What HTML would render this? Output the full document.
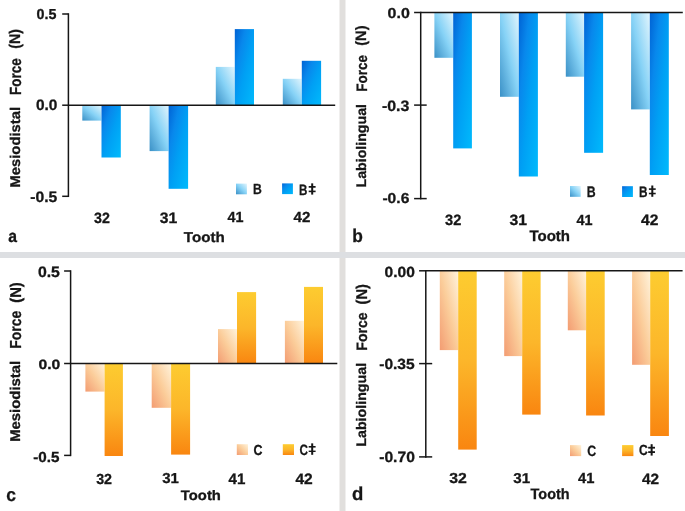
<!DOCTYPE html><html><head><meta charset="utf-8"><style>html,body{margin:0;padding:0;background:#fff;}svg{display:block;}text{font-family:"Liberation Sans", sans-serif;font-weight:bold;fill:#161616;text-rendering:geometricPrecision;stroke:#161616;stroke-width:0.3px;}.t{opacity:0.999;}</style></head><body>
<svg width="685" height="511" viewBox="0 0 685 511">
<defs>
<linearGradient id="blueL" x1="0" y1="1" x2="1" y2="0">
 <stop offset="0" stop-color="#3a90c6"/><stop offset="0.5" stop-color="#86d2f6"/><stop offset="1" stop-color="#e2f5fd"/></linearGradient>
<linearGradient id="blueD" x1="0" y1="0" x2="1" y2="1">
 <stop offset="0" stop-color="#0062d4"/><stop offset="0.28" stop-color="#0888ec"/><stop offset="0.55" stop-color="#00a0f4"/><stop offset="1" stop-color="#00bafc"/></linearGradient>
<linearGradient id="orL" x1="0" y1="1" x2="1" y2="0">
 <stop offset="0" stop-color="#f39c72"/><stop offset="0.5" stop-color="#fbcd9a"/><stop offset="1" stop-color="#fff3dc"/></linearGradient>
<linearGradient id="orD" x1="0" y1="0" x2="0" y2="1">
 <stop offset="0" stop-color="#fdcc30"/><stop offset="0.5" stop-color="#fcb62a"/><stop offset="1" stop-color="#f98610"/></linearGradient>
</defs>
<rect x="339.5" y="0" width="6" height="511" fill="#e1dfdd"/>
<rect x="0" y="252" width="685" height="6" fill="#dddfe2"/>
<rect x="82.3" y="105.2" width="19.2" height="15.4" fill="url(#blueL)"/>
<rect x="101.5" y="105.2" width="19.3" height="52.3" fill="url(#blueD)"/>
<rect x="149.6" y="105.2" width="19" height="45.9" fill="url(#blueL)"/>
<rect x="168.6" y="105.2" width="19.5" height="83.6" fill="url(#blueD)"/>
<rect x="215.8" y="66.9" width="19" height="38.3" fill="url(#blueL)"/>
<rect x="234.8" y="29.1" width="19.2" height="76.1" fill="url(#blueD)"/>
<rect x="282.8" y="78.8" width="19" height="26.4" fill="url(#blueL)"/>
<rect x="301.8" y="60.8" width="19.3" height="44.4" fill="url(#blueD)"/>
<line x1="68.4" y1="13.25" x2="68.4" y2="197.05" stroke="#161616" stroke-width="1.5"/>
<line x1="68.4" y1="105.2" x2="335.2" y2="105.2" stroke="#161616" stroke-width="1.5"/>
<line x1="62.2" y1="14" x2="68.4" y2="14" stroke="#161616" stroke-width="1.5"/>
<line x1="62.2" y1="105.2" x2="68.4" y2="105.2" stroke="#161616" stroke-width="1.5"/>
<line x1="62.2" y1="196.3" x2="68.4" y2="196.3" stroke="#161616" stroke-width="1.5"/>
<rect x="434.4" y="12.5" width="18.8" height="45.3" fill="url(#blueL)"/>
<rect x="453.2" y="12.5" width="18.7" height="135.9" fill="url(#blueD)"/>
<rect x="500" y="12.5" width="18.8" height="84.3" fill="url(#blueL)"/>
<rect x="518.8" y="12.5" width="19.1" height="164" fill="url(#blueD)"/>
<rect x="565.8" y="12.5" width="18.3" height="64.2" fill="url(#blueL)"/>
<rect x="584.1" y="12.5" width="19" height="140.3" fill="url(#blueD)"/>
<rect x="631.1" y="12.5" width="18.7" height="96.9" fill="url(#blueL)"/>
<rect x="649.8" y="12.5" width="19" height="162.5" fill="url(#blueD)"/>
<line x1="420.7" y1="11.75" x2="420.7" y2="199.35" stroke="#161616" stroke-width="1.5"/>
<line x1="420.7" y1="12.5" x2="682.8" y2="12.5" stroke="#161616" stroke-width="1.5"/>
<line x1="414.1" y1="12.5" x2="420.7" y2="12.5" stroke="#161616" stroke-width="1.5"/>
<line x1="414.1" y1="105.1" x2="426.7" y2="105.1" stroke="#161616" stroke-width="1.5"/>
<line x1="414.1" y1="198.6" x2="426.7" y2="198.6" stroke="#161616" stroke-width="1.5"/>
<rect x="85.4" y="363.5" width="19.2" height="28.1" fill="url(#orL)"/>
<rect x="104.6" y="363.5" width="18.3" height="92.5" fill="url(#orD)"/>
<rect x="151.7" y="363.5" width="19.4" height="44.3" fill="url(#orL)"/>
<rect x="171.1" y="363.5" width="19" height="91.1" fill="url(#orD)"/>
<rect x="218" y="329.1" width="19" height="34.4" fill="url(#orL)"/>
<rect x="237" y="292.1" width="19.1" height="71.4" fill="url(#orD)"/>
<rect x="284.9" y="320.8" width="19.1" height="42.7" fill="url(#orL)"/>
<rect x="304" y="286.9" width="19" height="76.6" fill="url(#orD)"/>
<line x1="70.6" y1="270.25" x2="70.6" y2="456.15" stroke="#161616" stroke-width="1.5"/>
<line x1="70.6" y1="363.5" x2="337.3" y2="363.5" stroke="#161616" stroke-width="1.5"/>
<line x1="64.1" y1="271" x2="70.6" y2="271" stroke="#161616" stroke-width="1.5"/>
<line x1="64.1" y1="363.5" x2="70.6" y2="363.5" stroke="#161616" stroke-width="1.5"/>
<line x1="64.1" y1="455.4" x2="70.6" y2="455.4" stroke="#161616" stroke-width="1.5"/>
<rect x="439.8" y="270.8" width="18.4" height="79.3" fill="url(#orL)"/>
<rect x="458.2" y="270.8" width="18.5" height="178.8" fill="url(#orD)"/>
<rect x="504.2" y="270.8" width="18" height="85.3" fill="url(#orL)"/>
<rect x="522.2" y="270.8" width="18.4" height="143.8" fill="url(#orD)"/>
<rect x="567.8" y="270.8" width="18.3" height="59.5" fill="url(#orL)"/>
<rect x="586.1" y="270.8" width="18.6" height="144.7" fill="url(#orD)"/>
<rect x="632.1" y="270.8" width="18.1" height="94" fill="url(#orL)"/>
<rect x="650.2" y="270.8" width="18.7" height="165.2" fill="url(#orD)"/>
<line x1="425.8" y1="270.05" x2="425.8" y2="457.65" stroke="#161616" stroke-width="1.5"/>
<line x1="425.8" y1="270.8" x2="682.6" y2="270.8" stroke="#161616" stroke-width="1.5"/>
<line x1="419.1" y1="270.8" x2="425.8" y2="270.8" stroke="#161616" stroke-width="1.5"/>
<line x1="419.1" y1="363.6" x2="432.2" y2="363.6" stroke="#161616" stroke-width="1.5"/>
<line x1="419.1" y1="456.9" x2="432.2" y2="456.9" stroke="#161616" stroke-width="1.5"/>
<rect x="236" y="183.6" width="10.9" height="10.7" fill="url(#blueL)"/>
<rect x="282.1" y="183.4" width="10.8" height="10.7" fill="url(#blueD)"/>
<rect x="570" y="186" width="10.7" height="10.8" fill="url(#blueL)"/>
<rect x="622.1" y="186.2" width="10.8" height="10.8" fill="url(#blueD)"/>
<rect x="236.8" y="444.2" width="11.2" height="10.8" fill="url(#orL)"/>
<rect x="282.8" y="444.2" width="11.2" height="10.8" fill="url(#orD)"/>
<rect x="570" y="445.1" width="11.2" height="11" fill="url(#orL)"/>
<rect x="622.1" y="445.1" width="11.3" height="11" fill="url(#orD)"/>
<rect x="311.2" y="183.35" width="2" height="11.25" fill="#161616"/>
<rect x="308.7" y="186" width="6.9" height="1.75" fill="#161616"/>
<rect x="308.7" y="190.6" width="6.9" height="1.6" fill="#161616"/>
<rect x="651.3" y="185.5" width="2" height="11.3" fill="#161616"/>
<rect x="648.9" y="188.3" width="6.8" height="1.6" fill="#161616"/>
<rect x="648.9" y="192.75" width="6.8" height="1.55" fill="#161616"/>
<rect x="311.2" y="443.35" width="2" height="11.45" fill="#161616"/>
<rect x="308.7" y="446" width="6.9" height="1.6" fill="#161616"/>
<rect x="308.7" y="450.6" width="6.9" height="1.4" fill="#161616"/>
<rect x="650.65" y="444.2" width="2" height="11.4" fill="#161616"/>
<rect x="648.2" y="446.8" width="6.8" height="1.8" fill="#161616"/>
<rect x="648.2" y="451.2" width="6.8" height="1.8" fill="#161616"/>
<g class="t">
<text x="0" y="0" font-size="14.484" transform="translate(36.56,19.17) scale(0.9897,1)">0.5</text>
<text x="0" y="0" font-size="15.200" transform="translate(35.88,109.78) scale(1.0152,1)">0.0</text>
<text x="0" y="0" font-size="15.200" transform="translate(30.19,201.73) scale(1.0329,1)">-0.5</text>
<text x="0" y="0" font-size="14.881" transform="translate(94.05,222.77) scale(0.9558,1)">32</text>
<text x="0" y="0" font-size="15.200" transform="translate(159.84,222.62) scale(1.0355,1)">31</text>
<text x="0" y="0" font-size="14.717" transform="translate(227.61,221.81) scale(0.9772,1)">41</text>
<text x="0" y="0" font-size="14.649" transform="translate(293.5,221.98) scale(1.0343,1)">42</text>
<text x="0" y="0" font-size="14.207" transform="translate(183.85,242.37) scale(1.0693,1)">Tooth</text>
<text x="0" y="0" font-size="17.234" transform="translate(8.34,241.56) scale(0.9098,1)">a</text>
<text x="0" y="0" font-size="14.696" transform="translate(252.93,194.34) scale(0.8299,1)">B</text>
<text x="0" y="0" font-size="14.938" transform="translate(298.91,194.84) scale(0.7777,1)">B</text>
<text x="0" y="0" font-size="14.069" transform="translate(20.02,187.54) rotate(-90) scale(1.0536,1)">Mesiodistal</text>
<text x="0" y="0" font-size="16.128" transform="translate(20.62,94.95) rotate(-90) scale(0.8349,1)">Force</text>
<text x="0" y="0" font-size="15.454" transform="translate(20.12,48.78) rotate(-90) scale(0.9193,1)">(N)</text>
<text x="0" y="0" font-size="14.352" transform="translate(387.57,18.45) scale(1.1126,1)">0.0</text>
<text x="0" y="0" font-size="15.200" transform="translate(381.88,110.77) scale(1.0499,1)">-0.3</text>
<text x="0" y="0" font-size="14.371" transform="translate(382.42,203.43) scale(1.0870,1)">-0.6</text>
<text x="0" y="0" font-size="15.014" transform="translate(445.11,224.71) scale(0.9735,1)">32</text>
<text x="0" y="0" font-size="14.891" transform="translate(509.55,224.95) scale(1.0563,1)">31</text>
<text x="0" y="0" font-size="14.531" transform="translate(576.44,225.29) scale(0.9910,1)">41</text>
<text x="0" y="0" font-size="15.200" transform="translate(640.97,224.85) scale(1.0270,1)">42</text>
<text x="0" y="0" font-size="15.111" transform="translate(529.45,241.21) scale(0.9945,1)">Tooth</text>
<text x="0" y="0" font-size="18.274" transform="translate(352.13,241.86) scale(0.9492,1)">b</text>
<text x="0" y="0" font-size="15.299" transform="translate(586.77,196.9) scale(0.8068,1)">B</text>
<text x="0" y="0" font-size="15.200" transform="translate(638.91,196.65) scale(0.7765,1)">B</text>
<text x="0" y="0" font-size="13.853" transform="translate(365.78,187.5) rotate(-90) scale(1.0236,1)">Labiolingual</text>
<text x="0" y="0" font-size="15.046" transform="translate(366.65,91.85) rotate(-90) scale(0.8993,1)">Force</text>
<text x="0" y="0" font-size="15.000" transform="translate(366.38,45.73) rotate(-90) scale(0.9705,1)">(N)</text>
<text x="0" y="0" font-size="15.127" transform="translate(37.89,276.62) scale(1.0493,1)">0.5</text>
<text x="0" y="0" font-size="13.570" transform="translate(38.4,369.3) scale(1.1588,1)">0.0</text>
<text x="0" y="0" font-size="14.557" transform="translate(33.19,462.35) scale(1.0466,1)">-0.5</text>
<text x="0" y="0" font-size="14.572" transform="translate(96.13,483.75) scale(0.9780,1)">32</text>
<text x="0" y="0" font-size="14.468" transform="translate(162.27,483.01) scale(1.0364,1)">31</text>
<text x="0" y="0" font-size="15.236" transform="translate(228.5,483.56) scale(0.9939,1)">41</text>
<text x="0" y="0" font-size="15.046" transform="translate(295.42,483.86) scale(1.0352,1)">42</text>
<text x="0" y="0" font-size="13.783" transform="translate(180.87,500.31) scale(1.0762,1)">Tooth</text>
<text x="0" y="0" font-size="18.500" transform="translate(6.32,500.78) scale(0.9415,1)">c</text>
<text x="0" y="0" font-size="14.572" transform="translate(253.56,455.16) scale(0.8539,1)">C</text>
<text x="0" y="0" font-size="14.881" transform="translate(299.51,454.53) scale(0.7915,1)">C</text>
<text x="0" y="0" font-size="14.073" transform="translate(19.99,441.77) rotate(-90) scale(1.0558,1)">Mesiodistal</text>
<text x="0" y="0" font-size="15.924" transform="translate(21.1,348.71) rotate(-90) scale(0.8776,1)">Force</text>
<text x="0" y="0" font-size="15.570" transform="translate(20.7,302.73) rotate(-90) scale(0.9487,1)">(N)</text>
<text x="0" y="0" font-size="14.663" transform="translate(384.59,276.68) scale(1.0603,1)">0.00</text>
<text x="0" y="0" font-size="14.716" transform="translate(379.24,368.52) scale(1.0566,1)">-0.35</text>
<text x="0" y="0" font-size="14.904" transform="translate(379.2,462.02) scale(1.0510,1)">-0.70</text>
<text x="0" y="0" font-size="14.501" transform="translate(449.17,483.18) scale(1.0897,1)">32</text>
<text x="0" y="0" font-size="14.290" transform="translate(513.37,483.29) scale(1.0569,1)">31</text>
<text x="0" y="0" font-size="14.731" transform="translate(577.94,482.96) scale(1.0011,1)">41</text>
<text x="0" y="0" font-size="14.883" transform="translate(641.92,483.83) scale(1.0337,1)">42</text>
<text x="0" y="0" font-size="15.039" transform="translate(530.61,499.44) scale(0.9618,1)">Tooth</text>
<text x="0" y="0" font-size="18.719" transform="translate(352.03,500.34) scale(0.9898,1)">d</text>
<text x="0" y="0" font-size="15.001" transform="translate(587.27,456.34) scale(0.8231,1)">C</text>
<text x="0" y="0" font-size="14.654" transform="translate(638.92,455.37) scale(0.8258,1)">C</text>
<text x="0" y="0" font-size="13.853" transform="translate(365.78,446.73) rotate(-90) scale(1.0282,1)">Labiolingual</text>
<text x="0" y="0" font-size="15.000" transform="translate(367.03,350.64) rotate(-90) scale(0.9382,1)">Force</text>
<text x="0" y="0" font-size="15.579" transform="translate(366.98,304.51) rotate(-90) scale(0.9427,1)">(N)</text>
</g>
</svg></body></html>
